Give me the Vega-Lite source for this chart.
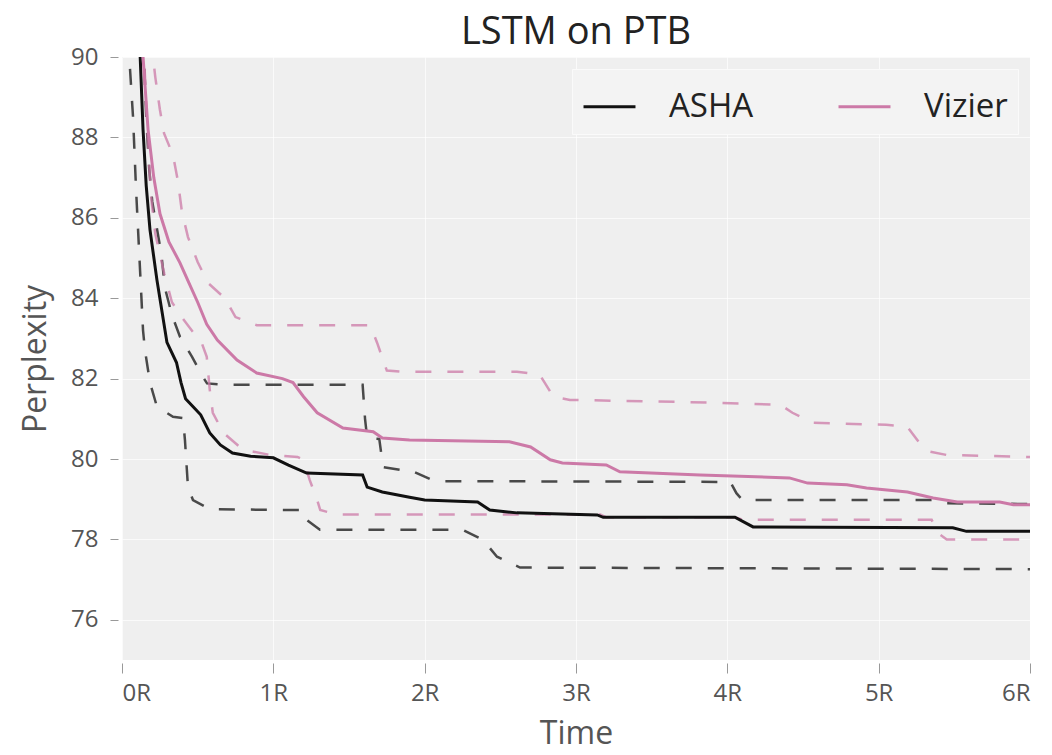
{
  "$schema": "https://vega.github.io/schema/vega-lite/v6.json",
  "width": 908,
  "height": 603,
  "autosize": {"type": "none"},
  "padding": {"left": 122, "top": 57, "right": 22, "bottom": 95},
  "background": "white",
  "title": {"text": "LSTM on PTB", "font": "Open Sans", "fontSize": 38, "fontWeight": "normal", "color": "#222222", "frame": "group", "anchor": "middle", "offset": -7},
  "config": {
    "view": {"fill": "#EFEFEF", "stroke": null},
    "axis": {"domain": false, "gridColor": "#FFFFFF", "gridWidth": 1, "gridOpacity": 0.7, "tickColor": "#999999", "tickWidth": 1, "labelColor": "#555555", "labelFont": "Open Sans", "labelFontSize": 24, "titleFont": "Open Sans", "titleFontSize": 32, "titleFontWeight": "normal", "titleColor": "#555555"},
    "legend": {"labelFont": "Open Sans", "labelFontSize": 33, "labelColor": "#222222"}
  },
  "data": {"values": [
    {"m":"ASHA","k":"mean","t":0.115,"v":90.5},{"m":"ASHA","k":"mean","t":0.139,"v":88.2},{"m":"ASHA","k":"mean","t":0.16,"v":86.8},{"m":"ASHA","k":"mean","t":0.185,"v":85.7},{"m":"ASHA","k":"mean","t":0.231,"v":84.45},{"m":"ASHA","k":"mean","t":0.297,"v":82.9},{"m":"ASHA","k":"mean","t":0.36,"v":82.4},{"m":"ASHA","k":"mean","t":0.39,"v":81.9},{"m":"ASHA","k":"mean","t":0.42,"v":81.5},{"m":"ASHA","k":"mean","t":0.47,"v":81.3},{"m":"ASHA","k":"mean","t":0.52,"v":81.1},{"m":"ASHA","k":"mean","t":0.58,"v":80.65},{"m":"ASHA","k":"mean","t":0.65,"v":80.35},{"m":"ASHA","k":"mean","t":0.73,"v":80.15},{"m":"ASHA","k":"mean","t":0.85,"v":80.07},{"m":"ASHA","k":"mean","t":1.0,"v":80.03},{"m":"ASHA","k":"mean","t":1.1,"v":79.85},{"m":"ASHA","k":"mean","t":1.22,"v":79.65},{"m":"ASHA","k":"mean","t":1.59,"v":79.6},{"m":"ASHA","k":"mean","t":1.62,"v":79.3},{"m":"ASHA","k":"mean","t":1.72,"v":79.18},{"m":"ASHA","k":"mean","t":1.9,"v":79.05},{"m":"ASHA","k":"mean","t":2.0,"v":78.98},{"m":"ASHA","k":"mean","t":2.35,"v":78.93},{"m":"ASHA","k":"mean","t":2.43,"v":78.73},{"m":"ASHA","k":"mean","t":2.61,"v":78.66},{"m":"ASHA","k":"mean","t":3.14,"v":78.61},{"m":"ASHA","k":"mean","t":3.18,"v":78.55},{"m":"ASHA","k":"mean","t":4.05,"v":78.55},{"m":"ASHA","k":"mean","t":4.17,"v":78.31},{"m":"ASHA","k":"mean","t":5.49,"v":78.29},{"m":"ASHA","k":"mean","t":5.58,"v":78.2},{"m":"ASHA","k":"mean","t":6.0,"v":78.2},

    {"m":"ASHA","k":"upper","t":0.14,"v":90.5},{"m":"ASHA","k":"upper","t":0.16,"v":88.5},{"m":"ASHA","k":"upper","t":0.18,"v":87.2},{"m":"ASHA","k":"upper","t":0.2,"v":86.4},{"m":"ASHA","k":"upper","t":0.26,"v":85.1},{"m":"ASHA","k":"upper","t":0.284,"v":84.25},{"m":"ASHA","k":"upper","t":0.33,"v":83.58},{"m":"ASHA","k":"upper","t":0.383,"v":83.04},{"m":"ASHA","k":"upper","t":0.463,"v":82.54},{"m":"ASHA","k":"upper","t":0.535,"v":82.04},{"m":"ASHA","k":"upper","t":0.562,"v":81.88},{"m":"ASHA","k":"upper","t":0.667,"v":81.85},{"m":"ASHA","k":"upper","t":1.59,"v":81.85},{"m":"ASHA","k":"upper","t":1.606,"v":81.0},{"m":"ASHA","k":"upper","t":1.62,"v":80.52},{"m":"ASHA","k":"upper","t":1.7,"v":80.5},{"m":"ASHA","k":"upper","t":1.725,"v":79.8},{"m":"ASHA","k":"upper","t":1.84,"v":79.73},{"m":"ASHA","k":"upper","t":1.9,"v":79.73},{"m":"ASHA","k":"upper","t":2.05,"v":79.48},{"m":"ASHA","k":"upper","t":2.1,"v":79.45},{"m":"ASHA","k":"upper","t":4.02,"v":79.43},{"m":"ASHA","k":"upper","t":4.06,"v":79.15},{"m":"ASHA","k":"upper","t":4.1,"v":78.98},{"m":"ASHA","k":"upper","t":5.36,"v":78.98},{"m":"ASHA","k":"upper","t":5.45,"v":78.9},{"m":"ASHA","k":"upper","t":6.0,"v":78.88},

    {"m":"ASHA","k":"lower","t":0.045,"v":90.5},{"m":"ASHA","k":"lower","t":0.053,"v":89.7},{"m":"ASHA","k":"lower","t":0.073,"v":88.5},{"m":"ASHA","k":"lower","t":0.093,"v":86.7},{"m":"ASHA","k":"lower","t":0.139,"v":83.2},{"m":"ASHA","k":"lower","t":0.152,"v":82.7},{"m":"ASHA","k":"lower","t":0.185,"v":81.9},{"m":"ASHA","k":"lower","t":0.231,"v":81.3},{"m":"ASHA","k":"lower","t":0.337,"v":81.05},{"m":"ASHA","k":"lower","t":0.403,"v":81.02},{"m":"ASHA","k":"lower","t":0.416,"v":80.47},{"m":"ASHA","k":"lower","t":0.436,"v":79.3},{"m":"ASHA","k":"lower","t":0.469,"v":78.98},{"m":"ASHA","k":"lower","t":0.582,"v":78.75},{"m":"ASHA","k":"lower","t":1.2,"v":78.73},{"m":"ASHA","k":"lower","t":1.222,"v":78.48},{"m":"ASHA","k":"lower","t":1.308,"v":78.24},{"m":"ASHA","k":"lower","t":2.25,"v":78.24},{"m":"ASHA","k":"lower","t":2.385,"v":77.99},{"m":"ASHA","k":"lower","t":2.478,"v":77.57},{"m":"ASHA","k":"lower","t":2.63,"v":77.3},{"m":"ASHA","k":"lower","t":6.0,"v":77.26},

    {"m":"Vizier","k":"mean","t":0.13,"v":90.5},{"m":"Vizier","k":"mean","t":0.172,"v":88.2},{"m":"Vizier","k":"mean","t":0.21,"v":87.0},{"m":"Vizier","k":"mean","t":0.251,"v":86.1},{"m":"Vizier","k":"mean","t":0.31,"v":85.4},{"m":"Vizier","k":"mean","t":0.383,"v":84.88},{"m":"Vizier","k":"mean","t":0.44,"v":84.4},{"m":"Vizier","k":"mean","t":0.5,"v":83.9},{"m":"Vizier","k":"mean","t":0.56,"v":83.35},{"m":"Vizier","k":"mean","t":0.63,"v":82.96},{"m":"Vizier","k":"mean","t":0.76,"v":82.46},{"m":"Vizier","k":"mean","t":0.89,"v":82.14},{"m":"Vizier","k":"mean","t":1.06,"v":82.0},{"m":"Vizier","k":"mean","t":1.13,"v":81.9},{"m":"Vizier","k":"mean","t":1.2,"v":81.55},{"m":"Vizier","k":"mean","t":1.29,"v":81.15},{"m":"Vizier","k":"mean","t":1.46,"v":80.77},{"m":"Vizier","k":"mean","t":1.66,"v":80.68},{"m":"Vizier","k":"mean","t":1.72,"v":80.52},{"m":"Vizier","k":"mean","t":1.9,"v":80.47},{"m":"Vizier","k":"mean","t":2.56,"v":80.43},{"m":"Vizier","k":"mean","t":2.7,"v":80.3},{"m":"Vizier","k":"mean","t":2.83,"v":79.98},{"m":"Vizier","k":"mean","t":2.91,"v":79.9},{"m":"Vizier","k":"mean","t":3.2,"v":79.85},{"m":"Vizier","k":"mean","t":3.29,"v":79.68},{"m":"Vizier","k":"mean","t":3.82,"v":79.6},{"m":"Vizier","k":"mean","t":4.41,"v":79.53},{"m":"Vizier","k":"mean","t":4.53,"v":79.4},{"m":"Vizier","k":"mean","t":4.79,"v":79.36},{"m":"Vizier","k":"mean","t":4.92,"v":79.28},{"m":"Vizier","k":"mean","t":5.19,"v":79.18},{"m":"Vizier","k":"mean","t":5.36,"v":79.03},{"m":"Vizier","k":"mean","t":5.52,"v":78.93},{"m":"Vizier","k":"mean","t":5.8,"v":78.93},{"m":"Vizier","k":"mean","t":5.89,"v":78.86},{"m":"Vizier","k":"mean","t":6.0,"v":78.86},

    {"m":"Vizier","k":"upper","t":0.19,"v":90.5},{"m":"Vizier","k":"upper","t":0.22,"v":89.5},{"m":"Vizier","k":"upper","t":0.25,"v":88.7},{"m":"Vizier","k":"upper","t":0.278,"v":88.1},{"m":"Vizier","k":"upper","t":0.337,"v":87.56},{"m":"Vizier","k":"upper","t":0.37,"v":86.9},{"m":"Vizier","k":"upper","t":0.396,"v":86.15},{"m":"Vizier","k":"upper","t":0.436,"v":85.52},{"m":"Vizier","k":"upper","t":0.5,"v":84.9},{"m":"Vizier","k":"upper","t":0.568,"v":84.38},{"m":"Vizier","k":"upper","t":0.68,"v":84.0},{"m":"Vizier","k":"upper","t":0.75,"v":83.53},{"m":"Vizier","k":"upper","t":0.89,"v":83.33},{"m":"Vizier","k":"upper","t":1.64,"v":83.33},{"m":"Vizier","k":"upper","t":1.685,"v":82.9},{"m":"Vizier","k":"upper","t":1.75,"v":82.2},{"m":"Vizier","k":"upper","t":1.86,"v":82.17},{"m":"Vizier","k":"upper","t":2.61,"v":82.17},{"m":"Vizier","k":"upper","t":2.76,"v":82.1},{"m":"Vizier","k":"upper","t":2.85,"v":81.55},{"m":"Vizier","k":"upper","t":2.96,"v":81.47},{"m":"Vizier","k":"upper","t":3.7,"v":81.42},{"m":"Vizier","k":"upper","t":4.35,"v":81.35},{"m":"Vizier","k":"upper","t":4.43,"v":81.15},{"m":"Vizier","k":"upper","t":4.57,"v":80.9},{"m":"Vizier","k":"upper","t":5.05,"v":80.85},{"m":"Vizier","k":"upper","t":5.19,"v":80.8},{"m":"Vizier","k":"upper","t":5.27,"v":80.4},{"m":"Vizier","k":"upper","t":5.34,"v":80.18},{"m":"Vizier","k":"upper","t":5.45,"v":80.1},{"m":"Vizier","k":"upper","t":6.0,"v":80.05},

    {"m":"Vizier","k":"lower","t":0.14,"v":90.5},{"m":"Vizier","k":"lower","t":0.17,"v":88.0},{"m":"Vizier","k":"lower","t":0.19,"v":86.6},{"m":"Vizier","k":"lower","t":0.22,"v":85.6},{"m":"Vizier","k":"lower","t":0.28,"v":84.6},{"m":"Vizier","k":"lower","t":0.33,"v":83.9},{"m":"Vizier","k":"lower","t":0.40,"v":83.5},{"m":"Vizier","k":"lower","t":0.48,"v":83.1},{"m":"Vizier","k":"lower","t":0.52,"v":82.96},{"m":"Vizier","k":"lower","t":0.56,"v":82.54},{"m":"Vizier","k":"lower","t":0.58,"v":81.72},{"m":"Vizier","k":"lower","t":0.6,"v":81.15},{"m":"Vizier","k":"lower","t":0.67,"v":80.65},{"m":"Vizier","k":"lower","t":0.8,"v":80.23},{"m":"Vizier","k":"lower","t":0.98,"v":80.1},{"m":"Vizier","k":"lower","t":1.16,"v":80.05},{"m":"Vizier","k":"lower","t":1.2,"v":79.98},{"m":"Vizier","k":"lower","t":1.24,"v":79.48},{"m":"Vizier","k":"lower","t":1.29,"v":78.98},{"m":"Vizier","k":"lower","t":1.31,"v":78.73},{"m":"Vizier","k":"lower","t":1.42,"v":78.62},{"m":"Vizier","k":"lower","t":3.16,"v":78.62},{"m":"Vizier","k":"lower","t":3.2,"v":78.55},{"m":"Vizier","k":"lower","t":4.05,"v":78.55},{"m":"Vizier","k":"lower","t":4.1,"v":78.49},{"m":"Vizier","k":"lower","t":5.35,"v":78.49},{"m":"Vizier","k":"lower","t":5.39,"v":78.16},{"m":"Vizier","k":"lower","t":5.45,"v":78.0},{"m":"Vizier","k":"lower","t":6.0,"v":78.0}
  ]},
  "encoding": {
    "x": {"field": "t", "type": "quantitative", "scale": {"domain": [0, 6], "nice": false, "zero": false},
      "axis": {"title": "Time", "values": [0, 1, 2, 3, 4, 5, 6], "labelExpr": "datum.value + 'R'", "tickSize": 10, "offset": 3, "labelPadding": 8, "titlePadding": 13, "grid": true}},
    "y": {"field": "v", "type": "quantitative", "scale": {"domain": [75, 90], "nice": false, "zero": false},
      "axis": {"title": "Perplexity", "values": [76, 78, 80, 82, 84, 86, 88, 90], "tickSize": 8, "offset": 4, "labelPadding": 12, "titlePadding": 18, "grid": true}},
    "color": {"field": "m", "type": "nominal", "scale": {"domain": ["ASHA", "Vizier"], "range": ["#111111", "#CC79A7"]},
      "legend": {"title": null, "orient": "top-right", "offset": 12, "direction": "horizontal", "symbolType": "stroke", "symbolSize": 2700, "symbolStrokeWidth": 3, "symbolOpacity": 1, "symbolDash": [], "labelOffset": 32, "columnPadding": 78, "padding": 10, "fillColor": "#F3F3F3", "strokeColor": "#FAFAFA"}}
  },
  "layer": [
    {
      "transform": [{"filter": "datum.k != 'mean'"}],
      "mark": {"type": "line", "strokeDash": [16, 16], "strokeWidth": 2.5, "opacity": 0.75, "clip": true},
      "encoding": {"detail": {"field": "k", "type": "nominal"}}
    },
    {
      "transform": [{"filter": "datum.k == 'mean'"}],
      "mark": {"type": "line", "strokeWidth": 3, "clip": true},
      "encoding": {}
    }
  ]
}
